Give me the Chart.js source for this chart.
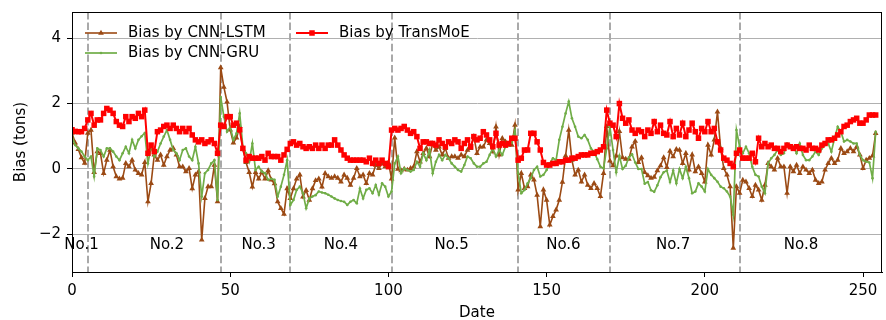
<!DOCTYPE html>
<html><head><meta charset="utf-8">
<script src="https://cdn.jsdelivr.net/npm/chart.js@4/dist/chart.umd.min.js"></script>
<style>html,body{margin:0;padding:0;background:#fff}#wrap{width:886px;height:320px}</style>
</head><body><div id="wrap"><canvas id="c" width="886" height="320"></canvas></div>
<script>
const seriesNames = ['Bias by CNN-LSTM', 'Bias by CNN-GRU', 'Bias by TransMoE'];
const lstmBias = [
1.1,0.8,0.6,0.35,0.18,1.1,1.19,-0.1,0.53,0.48,
-0.13,0.27,0.58,0.07,-0.23,-0.3,-0.28,0.17,0.07,0.27,
-0.03,-0.13,-0.18,0.2,-1.0,-0.44,0.43,0.27,0.43,0.12,
0.38,0.58,0.63,0.43,0.07,0.07,-0.08,0.02,-0.6,-0.18,
-0.08,-2.17,-0.9,-0.54,-0.54,0.12,-1.0,3.1,2.5,2.05,
1.2,0.8,0.95,1.3,0.6,0.2,-0.1,-0.55,-0.1,-0.3,
-0.1,-0.3,-0.05,-0.33,-0.45,-1.0,-1.2,-1.38,-0.6,-0.9,
-0.6,-0.3,-0.18,-0.85,-0.65,-0.95,-0.6,-0.35,-0.3,-0.55,
-0.13,-0.23,-0.28,-0.23,-0.28,-0.39,-0.18,-0.28,-0.49,-0.28,
0.02,-0.23,-0.18,-0.44,-0.13,-0.18,0.12,0.02,0.17,0.07,
0.2,-0.3,0.95,0.0,-0.05,0.0,-0.03,0.02,0.07,0.53,
0.22,0.48,0.63,0.38,0.78,0.58,0.68,0.43,0.63,0.33,
0.38,0.38,0.33,0.43,0.38,0.58,0.63,0.99,0.48,0.68,
0.68,0.89,0.78,0.53,1.29,0.43,0.94,0.83,0.73,0.73,
1.34,-0.64,-0.13,-0.59,-0.54,-0.18,-0.33,-0.8,-1.76,-0.64,
-0.95,-1.71,-1.45,-1.25,-0.95,-0.4,0.4,1.19,0.27,-0.18,
-0.03,-0.39,-0.18,-0.49,-0.59,-0.44,-0.59,-0.84,-0.13,1.3,
0.25,0.1,0.4,1.15,0.35,0.3,0.3,0.68,0.85,0.2,
0.35,-0.1,-0.2,-0.28,-0.25,-0.05,0.1,0.35,0.05,0.55,
0.38,0.6,0.58,0.17,0.48,-0.03,0.43,-0.08,0.07,-0.13,
-0.39,0.73,0.43,0.89,1.75,0.63,0.02,-0.18,-0.54,-2.42,
-0.54,-0.74,-0.34,-0.39,-0.59,-0.84,-0.49,-0.64,-0.95,-0.49,
0.17,0.07,-0.03,0.33,0.07,0.07,-0.74,0.07,-0.08,0.12,
-0.13,0.07,-0.03,-0.13,-0.03,-0.34,-0.44,-0.39,-0.03,0.17,
0.33,0.17,0.27,0.63,0.48,0.53,0.63,0.53,0.68,0.43,
0.02,0.27,0.33,0.4,1.09];
const gruBias = [
0.99,0.73,0.63,0.53,0.38,0.27,0.38,-0.23,0.63,0.58,
0.38,0.63,0.63,0.53,0.38,0.27,0.48,0.68,0.48,0.89,
0.63,0.89,1.0,1.1,0.17,0.68,0.38,0.53,0.78,0.99,
1.19,0.89,0.58,0.48,0.27,0.58,0.63,0.38,0.27,0.68,
0.17,-0.84,-0.13,-0.03,0.17,0.27,-0.95,2.2,1.6,1.14,
1.29,0.89,1.09,1.7,0.68,0.48,0.22,0.78,-0.03,0.07,
-0.08,-0.13,-0.33,-0.3,-0.33,-0.84,-0.54,-0.18,0.27,-1.1,
-0.95,-0.64,-0.54,-0.74,-1.2,-0.9,-0.84,-0.8,-0.69,-0.72,
-0.74,-0.79,-0.84,-0.9,-0.95,-0.98,-1.0,-1.1,-1.0,-0.95,
-1.05,-0.6,-0.9,-0.64,-0.59,-0.74,-0.49,-0.79,-0.44,-0.54,
-0.84,-0.69,0.17,0.38,-0.13,0.02,-0.03,-0.08,-0.03,0.22,
0.07,0.48,0.27,0.58,-0.13,0.22,0.43,0.27,0.43,0.33,
0.17,0.07,-0.03,-0.08,0.12,0.38,0.33,0.17,0.07,0.07,
0.17,0.22,0.43,0.63,0.38,0.58,0.43,0.68,0.73,0.8,
1.19,-0.13,-0.74,-0.64,-0.44,-0.28,-0.03,0.07,-0.23,-0.18,
-0.03,0.17,0.33,0.27,0.89,1.29,1.7,2.06,1.55,1.29,
0.99,0.94,1.04,0.89,0.63,0.53,0.3,0.07,0.02,0.63,
1.29,0.58,-0.1,0.4,0.0,0.1,0.35,0.45,0.2,0.0,
0.0,-0.45,-0.4,-0.65,-0.7,-0.5,-0.25,-0.1,-0.05,-0.4,
-0.05,-0.44,0.0,-0.28,0.07,-0.28,-0.74,-0.69,-0.44,-0.54,
-0.69,0.0,-0.18,-0.28,-0.39,-0.54,-0.59,-0.69,-0.84,-1.4,
1.19,0.68,0.48,0.68,0.48,0.07,-0.18,-0.23,-0.54,-0.74,
0.17,0.33,0.43,0.58,0.43,0.48,0.78,0.73,0.68,0.48,
0.78,0.43,0.27,0.27,0.38,0.53,0.43,0.63,0.73,0.78,
0.53,0.94,1.29,1.14,0.84,0.89,0.84,0.78,0.78,0.43,
0.27,0.22,0.2,-0.28,1.14];
const transmoeBias = [
1.2,1.15,1.14,1.14,1.24,1.5,1.7,1.34,1.5,1.5,
1.7,1.85,1.8,1.7,1.45,1.34,1.3,1.6,1.45,1.6,
1.55,1.7,1.6,1.8,0.48,0.73,0.53,1.14,1.19,1.3,
1.34,1.24,1.34,1.24,1.14,1.24,1.14,1.24,1.04,0.89,
0.83,0.89,0.78,0.83,0.89,0.78,0.48,1.34,1.3,1.6,
1.6,1.34,1.4,1.2,0.63,0.27,0.38,0.33,0.33,0.33,
0.38,0.27,0.48,0.38,0.38,0.38,0.27,0.43,0.6,0.78,
0.83,0.73,0.78,0.68,0.63,0.68,0.63,0.73,0.63,0.73,
0.63,0.73,0.73,0.89,0.73,0.58,0.43,0.33,0.27,0.27,
0.27,0.27,0.27,0.22,0.33,0.17,0.27,0.17,0.27,0.17,
0.07,1.19,1.24,1.19,1.24,1.3,1.19,1.09,1.14,0.99,
0.63,0.83,0.83,0.78,0.78,0.73,0.89,0.78,0.68,0.83,
0.78,0.89,0.83,0.63,0.78,0.89,0.68,0.99,0.89,0.94,
1.14,1.04,0.89,0.68,1.09,0.73,0.78,0.73,0.78,0.94,
0.94,0.27,0.33,0.58,0.58,1.09,1.09,0.83,0.58,0.2,
0.12,0.12,0.17,0.17,0.22,0.22,0.27,0.27,0.33,0.33,
0.38,0.43,0.43,0.43,0.48,0.48,0.53,0.58,0.68,1.8,
1.4,1.34,0.99,2.0,1.55,1.4,1.5,1.19,1.09,1.19,
1.14,0.99,1.19,1.09,1.45,1.14,1.34,1.09,1.04,1.45,
0.99,1.24,1.04,1.4,0.99,1.19,1.4,1.14,0.94,1.24,
1.14,1.45,1.14,1.24,0.83,0.58,0.33,0.27,0.17,0.07,
0.48,0.58,0.33,0.33,0.33,0.48,0.22,0.94,0.68,0.78,
0.68,0.73,0.63,0.63,0.53,0.63,0.73,0.68,0.63,0.68,
0.63,0.63,0.58,0.73,0.63,0.63,0.58,0.73,0.78,0.89,
0.89,0.94,1.04,1.14,1.3,1.34,1.45,1.5,1.55,1.4,
1.4,1.5,1.65,1.65,1.65];
const segmentBoundaries = [5, 47, 69, 101, 141, 170, 211];
const segmentLabels = ['No.1','No.2','No.3','No.4','No.5','No.6','No.7','No.8'];
const segmentLabelX = [3, 30, 59, 85, 120, 155.3, 190, 230.4];
const segmentLabelY = -2.32;
const xTicks = [0, 50, 100, 150, 200, 250];
const yTicks = [-2, 0, 2, 4];

const FONT = '"DejaVu Sans", "Liberation Sans", sans-serif';
const FS = 15;
const toXY = arr => arr.map((v, i) => ({x: i, y: v}));

const overlay = {
  id: 'overlay',
  beforeDatasetsDraw(chart) {
    const {ctx, chartArea: a, scales: {x}} = chart;
    ctx.save();
    ctx.strokeStyle = '#a9a9a9';
    ctx.lineWidth = 2;
    ctx.setLineDash([7.4, 3.2]);
    segmentBoundaries.forEach(b => {
      const px = Math.round(x.getPixelForValue(b));
      ctx.beginPath(); ctx.moveTo(px, a.top); ctx.lineTo(px, a.bottom); ctx.stroke();
    });
    ctx.restore();
  },
  afterDraw(chart) {
    const {ctx, chartArea: a, scales: {x, y}} = chart;
    ctx.save();
    ctx.strokeStyle = '#000'; ctx.lineWidth = 1;
    ctx.strokeRect(a.left + 0.5, a.top + 0.5, a.right - a.left - 1, a.bottom - a.top);
    ctx.fillStyle = '#000'; ctx.font = FS + 'px ' + FONT;
    ctx.textAlign = 'center'; ctx.textBaseline = 'middle';
    segmentLabels.forEach((t, i) => ctx.fillText(t, x.getPixelForValue(segmentLabelX[i]), y.getPixelForValue(segmentLabelY)));
    const pos = [[0,0],[0,1],[1,0]];
    chart.data.datasets.forEach((ds, i) => {
      const [c, r] = pos[i];
      const x0 = a.left + 13 + c * 211, yy = a.top + 21 + r * 20;
      ctx.strokeStyle = ds.borderColor; ctx.lineWidth = ds.borderWidth; ctx.setLineDash([]);
      ctx.beginPath(); ctx.moveTo(x0, yy); ctx.lineTo(x0 + 32, yy); ctx.stroke();
      const cx = x0 + 16, rad = ds.pointRadius;
      ctx.fillStyle = ds.pointBackgroundColor;
      ctx.beginPath();
      if (ds.pointStyle === 'triangle') {
        ctx.moveTo(cx, yy - rad); ctx.lineTo(cx + rad * 0.866, yy + rad / 2); ctx.lineTo(cx - rad * 0.866, yy + rad / 2); ctx.closePath();
      } else if (ds.pointStyle === 'rect') {
        const s = rad * Math.SQRT1_2; ctx.rect(cx - s, yy - s, 2 * s, 2 * s);
      } else { ctx.arc(cx, yy, rad, 0, Math.PI * 2); }
      ctx.fill();
      ctx.fillStyle = '#000'; ctx.textAlign = 'left';
      ctx.fillText(ds.label, x0 + 43, yy);
    });
    ctx.restore();
  }
};

new Chart(document.getElementById('c'), {
  type: 'line',
  data: {
    datasets: [
      {label: seriesNames[0], data: toXY(lstmBias), borderColor: '#9b4a14', backgroundColor: '#9b4a14',
       pointBackgroundColor: '#9b4a14', pointBorderColor: '#9b4a14', borderWidth: 1.6, pointStyle: 'triangle', pointRadius: 3.3, pointBorderWidth: 0, order: 2},
      {label: seriesNames[1], data: toXY(gruBias), borderColor: '#70ad47', backgroundColor: '#70ad47',
       pointBackgroundColor: '#70ad47', pointBorderColor: '#70ad47', borderWidth: 1.7, pointStyle: 'circle', pointRadius: 1.3, pointBorderWidth: 0, order: 1},
      {label: seriesNames[2], data: toXY(transmoeBias), borderColor: '#ff0000', backgroundColor: '#ff0000',
       pointBackgroundColor: '#ff0000', pointBorderColor: '#ff0000', borderWidth: 2, pointStyle: 'rect', pointRadius: 3.9, pointBorderWidth: 0, order: 0}
    ]
  },
  options: {
    responsive: false, animation: false, devicePixelRatio: 1,
    layout: {padding: {top: 12, right: 1, left: 0, bottom: 0}},
    elements: {line: {tension: 0}},
    plugins: {legend: {display: false}, tooltip: {enabled: false}},
    scales: {
      x: {
        type: 'linear', min: 0, max: 256,
        afterBuildTicks: s => { s.ticks = xTicks.map(v => ({value: v})); },
        afterFit: s => { s.height = 48; s.paddingLeft = 0; s.paddingRight = 0; },
        ticks: {autoSkip: false, maxRotation: 0, color: '#000', padding: 5, font: {family: FONT, size: FS}},
        grid: {drawOnChartArea: false, drawTicks: true, tickLength: 5, tickColor: '#000'},
        border: {color: '#000', width: 1},
        title: {display: true, text: 'Date', color: '#000', font: {family: FONT, size: FS}, padding: {top: 0, bottom: -2}}
      },
      y: {
        type: 'linear', min: -3.15, max: 4.8,
        afterBuildTicks: s => { s.ticks = yTicks.map(v => ({value: v})); },
        afterFit: s => { s.width = 72; s.paddingTop = 0; s.paddingBottom = 0; },
        ticks: {color: '#000', padding: 6, font: {family: FONT, size: FS},
                callback: v => (v < 0 ? '\u2212' + Math.abs(v) : String(v))},
        grid: {color: '#b0b0b0', lineWidth: 1, tickLength: 5, tickColor: '#000'},
        border: {color: '#000', width: 1},
        title: {display: true, text: 'Bias (tons)', color: '#000', font: {family: FONT, size: FS}, padding: {top: 12, bottom: 0}}
      }
    }
  },
  plugins: [overlay]
});
</script></body></html>
